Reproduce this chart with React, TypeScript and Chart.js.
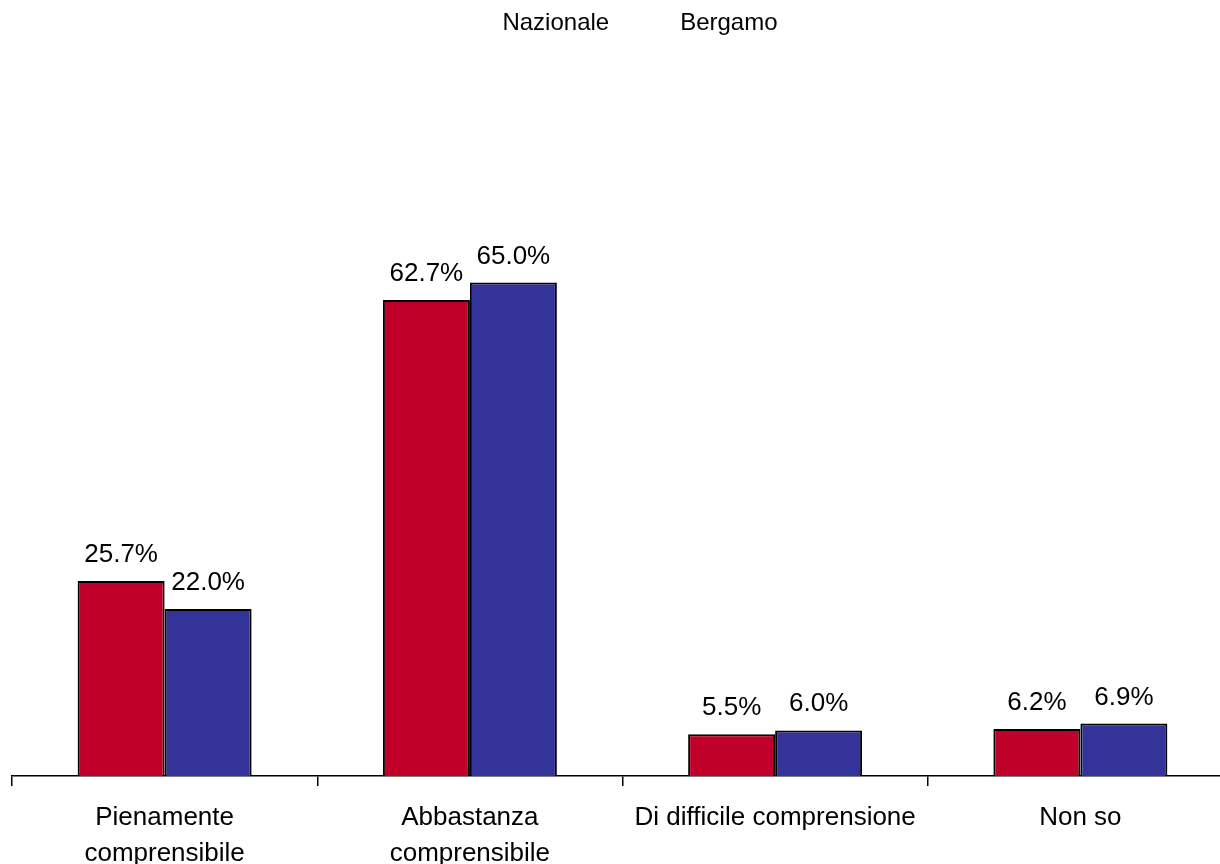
import React, { useEffect, useRef } from "react";
import { Chart, registerables } from "chart.js";

Chart.register(...registerables);

const categories: (string | string[])[] = [
  ["Pienamente", "comprensibile"],
  ["Abbastanza", "comprensibile"],
  "Di difficile comprensione",
  "Non so",
];
const nazionale = [25.7, 62.7, 5.5, 6.2];
const bergamo = [22.0, 65.0, 6.0, 6.9];
const seriesNames = ["Nazionale", "Bergamo"];

const RED = "#C00028";
const BLUE = "#333399";
const FONT = "'Liberation Sans', Arial, sans-serif";

const valueLabels = {
  id: "valueLabels",
  afterDatasetsDraw(chart: any) {
    const ctx = chart.ctx;
    ctx.save();
    ctx.font = `26px ${FONT}`;
    ctx.fillStyle = "#000";
    ctx.textAlign = "center";
    ctx.textBaseline = "alphabetic";
    chart.data.datasets.forEach((ds: any, di: number) => {
      const meta = chart.getDatasetMeta(di);
      meta.data.forEach((bar: any, i: number) => {
        ctx.fillText(ds.data[i].toFixed(1) + "%", bar.x, bar.y - 19);
      });
    });
    ctx.restore();
  },
};

export default function App() {
  const ref = useRef<HTMLCanvasElement>(null);
  useEffect(() => {
    if (!ref.current) return;
    const chart = new Chart(ref.current, {
      type: "bar",
      data: {
        labels: categories,
        datasets: [
          {
            label: seriesNames[0],
            data: nazionale,
            backgroundColor: RED,
            borderColor: "#000",
            borderWidth: 2,
          },
          {
            label: seriesNames[1],
            data: bergamo,
            backgroundColor: BLUE,
            borderColor: "#000",
            borderWidth: 2,
          },
        ],
      },
      options: {
        animation: false,
        responsive: false,
        layout: { padding: { left: 12, right: 0, top: 0, bottom: 0 } },
        datasets: { bar: { categoryPercentage: 0.57, barPercentage: 1 } },
        plugins: {
          legend: {
            display: true,
            position: "top",
            labels: {
              font: { family: FONT, size: 24 },
              color: "#000",
              boxWidth: 23,
              boxHeight: 16,
              padding: 36,
              generateLabels: (c: any) =>
                c.data.datasets.map((d: any, i: number) => ({
                  text: d.label,
                  fillStyle: "rgba(0,0,0,0)",
                  strokeStyle: "rgba(0,0,0,0)",
                  lineWidth: 0,
                  datasetIndex: i,
                  fontColor: "#000",
                })),
            },
          },
          tooltip: { enabled: false },
        },
        scales: {
          x: {
            offset: true,
            grid: {
              display: true,
              offset: true,
              drawOnChartArea: false,
              drawTicks: true,
              tickLength: 10,
              color: "#000",
              lineWidth: 1.5,
            },
            border: { display: true, color: "#000", width: 1.5 },
            ticks: {
              color: "#000",
              font: { family: FONT, size: 26, lineHeight: 1.385 },
              maxRotation: 0,
              autoSkip: false,
              padding: 14,
            },
          },
          y: {
            display: false,
            min: 0,
            max: 96.3,
          },
        },
      },
      plugins: [valueLabels],
    });
    return () => chart.destroy();
  }, []);
  return (
    <div
      style={{
        position: "absolute",
        left: 0,
        top: 0,
        width: 1220,
        height: 864,
        overflow: "hidden",
      }}
    >
      <canvas
        ref={ref}
        width={1233}
        height={911}
        style={{ display: "block", position: "absolute", left: 0, top: -25 }}
      />
    </div>
  );
}
